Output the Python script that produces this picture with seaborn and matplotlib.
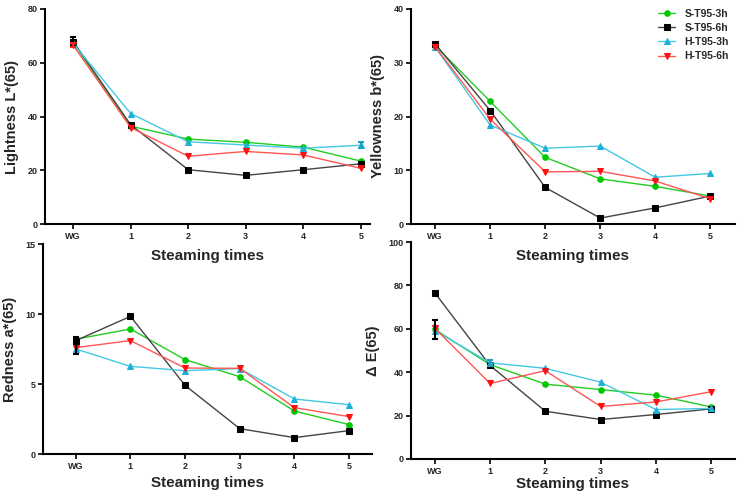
import numpy as np
import pandas as pd
import matplotlib
matplotlib.use("Agg")
import matplotlib.pyplot as plt
import seaborn as sns

# ---------------- data ----------------
steps = ["WG", "1", "2", "3", "4", "5"]
series_names = ["S-T95-3h", "S-T95-6h", "H-T95-3h", "H-T95-6h"]

L_S3 = [67.5, 36.4, 31.6, 30.4, 28.6, 23.4]
L_S6 = [67.9, 36.9, 20.2, 18.1, 20.2, 22.4]
L_H3 = [67.2, 41.1, 30.6, 29.4, 28.2, 29.3]
L_H6 = [66.5, 35.9, 25.2, 27.0, 25.7, 20.7]

b_S3 = [33.2, 22.8, 12.4, 8.4, 7.0, 5.2]
b_S6 = [33.5, 21.1, 6.8, 1.1, 3.0, 5.2]
b_H3 = [32.9, 18.4, 14.1, 14.5, 8.7, 9.4]
b_H6 = [33.0, 19.5, 9.7, 9.8, 8.0, 4.7]

a_S3 = [8.2, 8.93, 6.74, 5.52, 3.07, 2.1]
a_S6 = [8.1, 9.83, 4.9, 1.81, 1.17, 1.67]
a_H3 = [7.5, 6.26, 5.95, 6.1, 3.93, 3.52]
a_H6 = [7.6, 8.1, 6.14, 6.12, 3.31, 2.67]

dE_S3 = [59.7, 43.5, 34.5, 32.0, 29.4, 24.0]
dE_S6 = [76.6, 43.1, 22.0, 18.2, 20.5, 23.1]
dE_H3 = [59.2, 44.3, 41.8, 35.4, 22.8, 23.3]
dE_H6 = [60.3, 34.8, 40.7, 24.2, 26.3, 31.0]

# error bars: (series, step index, half-width, colour)
L_err = [("S-T95-6h", 0, 1.5, "black"), ("H-T95-6h", 0, 0.8, "#ff2020"), ("H-T95-3h", 5, 1.2, "#1f9fc0")]
b_err = []
a_err = [("S-T95-6h", 0, 0.25, "black"), ("H-T95-3h", 0, 0.35, "black")]
dE_err = [("S-T95-3h", 0, 4.3, "black"), ("H-T95-3h", 1, 1.5, "#1f9fc0")]

ylabels = ["Lightness L*(65)", "Yellowness b*(65)", "Redness a*(65)", "\u0394 E(65)"]
yticks = [[0, 20, 40, 60, 80], [0, 10, 20, 30, 40], [0, 5, 10, 15], [0, 20, 40, 60, 80, 100]]

line_colors = {"S-T95-3h": "#22cc22", "S-T95-6h": "#444444", "H-T95-3h": "#44c8e4", "H-T95-6h": "#ff5555"}
marker_colors = {"S-T95-3h": "#00c800", "S-T95-6h": "#000000", "H-T95-3h": "#1fb0d8", "H-T95-6h": "#ff1010"}
markers = {"S-T95-3h": "o", "S-T95-6h": "s", "H-T95-3h": "^", "H-T95-6h": "v"}

panels = [
    (L_S3, L_S6, L_H3, L_H6, L_err),
    (b_S3, b_S6, b_H3, b_H6, b_err),
    (a_S3, a_S6, a_H3, a_H6, a_err),
    (dE_S3, dE_S6, dE_H3, dE_H6, dE_err),
]

# ---------------- figure ----------------
sns.set_theme(style="ticks")
plt.rcParams["font.family"] = ["Liberation Sans", "DejaVu Sans"]
plt.rcParams["font.weight"] = "bold"

W, H = 744, 491
fig = plt.figure(figsize=(W / 100, H / 100), dpi=100)

def rect(l, r, t, b):
    return [l / W, 1 - b / H, (r - l) / W, (b - t) / H]

rects = [rect(45, 370, 9, 224), rect(411, 735, 9, 224),
         rect(43, 372, 244, 454), rect(411, 735, 242, 459)]
xlims = [(-0.49, 5.16), (-0.44, 5.45), (-0.6, 5.42), (-0.43, 5.43)]
xlabelpads = [6, 6, 4, 1]

for i, (pr, (s3, s6, h3, h6, errs)) in enumerate(zip(rects, panels)):
    ax = fig.add_axes(pr)
    ax.set_facecolor("none")
    vals = {"S-T95-3h": s3, "S-T95-6h": s6, "H-T95-3h": h3, "H-T95-6h": h6}
    rows = []
    for name in series_names:
        for k, v in enumerate(vals[name]):
            rows.append({"pos": k, "value": v, "series": name})
    df = pd.DataFrame(rows)
    for name in series_names:
        sub = df[df["series"] == name]
        sns.lineplot(data=sub, x="pos", y="value", ax=ax, color=line_colors[name],
                     marker=markers[name], markersize=4, markerfacecolor=marker_colors[name],
                     markeredgecolor=marker_colors[name], linewidth=1.0, label=name,
                     legend=(i == 1))
    for name, k, e, c in errs:
        ax.errorbar([k], [vals[name][k]], yerr=[e], fmt="none", ecolor=c,
                    elinewidth=1.5, capsize=2.5, capthick=1.5)

    ax.set_xlim(*xlims[i])
    ax.set_ylim(yticks[i][0], yticks[i][-1])
    ax.set_xticks(range(len(steps)))
    ax.set_xticklabels(steps)
    ax.set_yticks(yticks[i])
    sns.despine(ax=ax)
    for sp in ["left", "bottom"]:
        ax.spines[sp].set_linewidth(1.5)
        ax.spines[sp].set_color("black")
    ax.tick_params(axis="both", direction="out", length=3.5, width=1.2, color="black",
                   labelsize=6.5, pad=2)
    for lab in ax.get_xticklabels() + ax.get_yticklabels():
        lab.set_fontweight("bold")
    ax.set_xlabel("Steaming times", fontsize=11, fontweight="bold", labelpad=xlabelpads[i])
    ax.set_ylabel(ylabels[i], fontsize=10.5, fontweight="bold", labelpad=6)
    ax.grid(False)
    if i == 1:
        leg = ax.legend(loc="upper right", bbox_to_anchor=(1.0, 1.03), frameon=False,
                        handlelength=1.6, handletextpad=0.9, labelspacing=0.4,
                        borderaxespad=0.2, prop={"weight": "bold", "size": 7.5})

fig.savefig("out.png", dpi=100)
